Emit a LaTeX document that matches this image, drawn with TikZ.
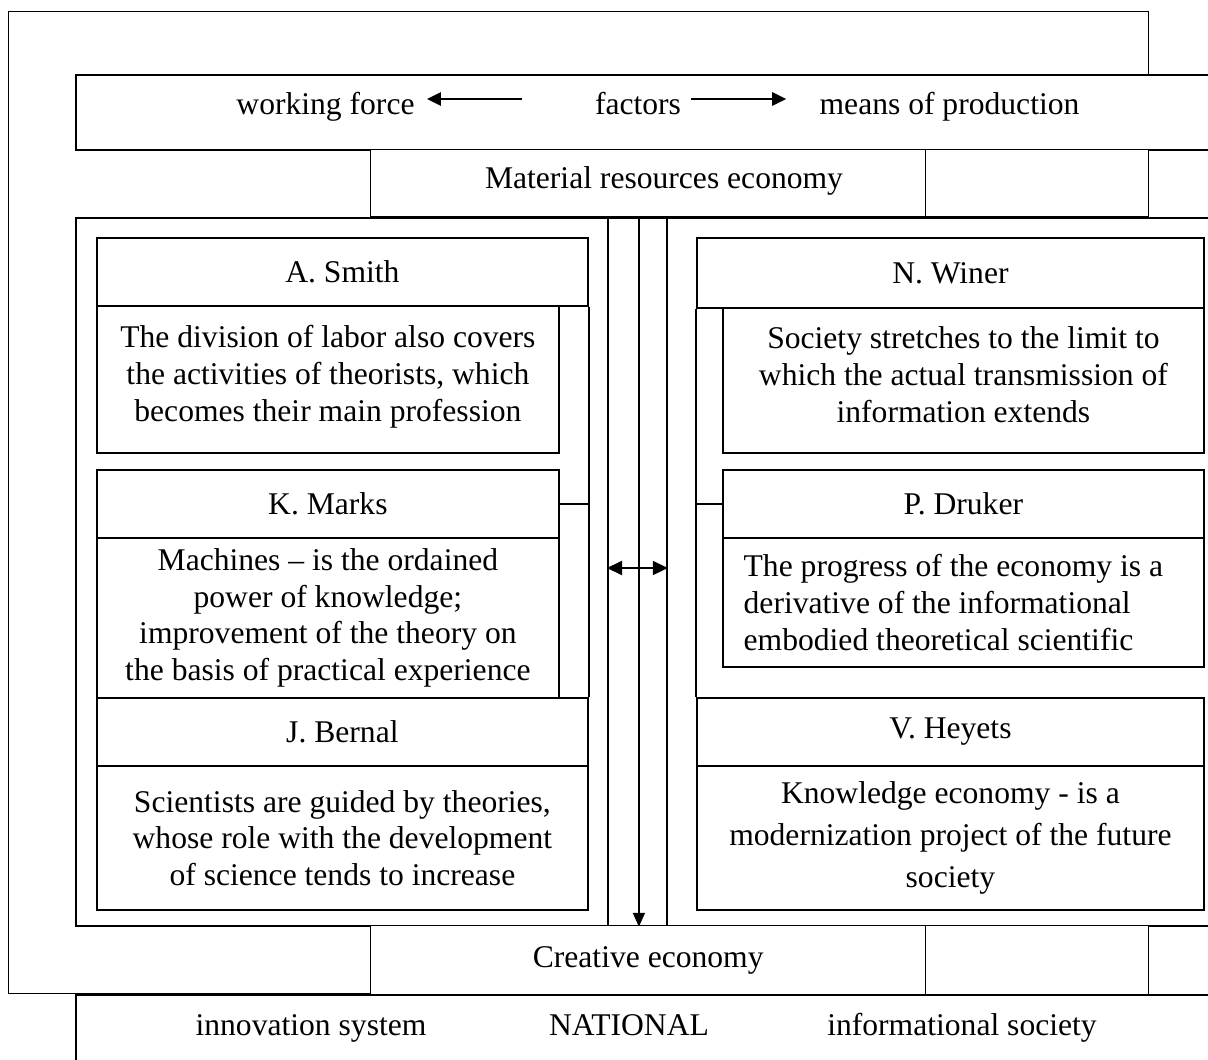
\documentclass[tikz,border=0pt]{standalone}
\usepackage{fontspec}
\setmainfont{Liberation Serif}
\usetikzlibrary{arrows.meta}
\newcommand{\cellat}[6][]{\node[cell,anchor=north west,minimum width={((#4)-(#2))*0.5pt},minimum height={((#5)-(#3))*0.5pt},#1] (#6) at (#2,#3)}
\begin{document}
\begin{tikzpicture}[x=0.5pt,y=-0.5pt,
  txt/.style={font=\fontsize{15.8pt}{18.35pt}\selectfont, inner sep=0pt},
  cell/.style={draw, line width=0.9pt, fill=white, inner sep=0pt, align=center, txt},
  thinline/.style={line width=0.7pt},
  boxline/.style={line width=0.9pt},
  tipline/.style={-{Triangle[length=7pt,width=6.5pt]}, line width=1.3pt},
]
\useasboundingbox (0,0) rectangle (1208,1059);
\clip (0,0) rectangle (1208,1059);

% outer frame
\cellat[thinline,fill=none]{8}{11}{1148}{993}{outer}{};

% factors row
\cellat[line width=1.1pt]{75}{74}{1240}{149}{facbox}{};
\coordinate (ay) at (0,99);
\node[txt,anchor=base] (wf) at (325.5,115) {working force};
\node[txt,anchor=base] (fac) at (638,115) {factors};
\node[txt,anchor=base] (mop) at (949.5,115) {means of production};
\draw[tipline, shorten <=36.5pt, shorten >=6pt] (fac.west |- ay) -- (wf.east |- ay);
\draw[tipline, shorten <=5pt, shorten >=16.5pt] (fac.east |- ay) -- (mop.west |- ay);

% material row
\cellat[thinline]{370}{149}{925}{216}{mat}{};
\node[txt,anchor=base] (matT) at (664,189) {Material resources economy};
\cellat[thinline]{925}{149}{1148}{216}{matR}{};

% inner frame
\cellat{75}{217}{1240}{925}{frame}{};
\cellat{607}{217}{666}{925}{midcol}{};
\draw[-{Triangle[length=7pt,width=6pt]}, boxline] ([xshift=0.75pt]midcol.north) -- ([xshift=0.75pt]midcol.south);
\coordinate (da) at (638,568);
\draw[{Triangle[length=7.5pt,width=7pt]}-{Triangle[length=7.5pt,width=7pt]}, line width=1pt] (da -| midcol.west) -- (da -| midcol.east);

% left column
\cellat{96}{237}{587}{305}{smithH}{A. Smith};
\cellat[text depth=6pt]{96}{305}{558}{452}{smithB}{The division of labor also covers\\the activities of theorists, which\\becomes their main profession};
\cellat{96}{469}{558}{537}{marksH}{K. Marks};
\cellat{96}{537}{558}{697}{marksB}{Machines – is the ordained\\power of knowledge;\\improvement of the theory on\\the basis of practical experience};
\cellat{96}{697}{587}{765}{bernalH}{J. Bernal};
\cellat{96}{765}{587}{909}{bernalB}{Scientists are guided by theories,\\whose role with the development\\of science tends to increase};
\draw[boxline] (smithH.south east) -- (bernalH.north east);
\draw[boxline] (marksH.east) -- (marksH.east -| smithH.east);

% right column
\cellat{696}{237}{1203}{307}{winerH}{N. Winer};
\cellat[text depth=6pt]{722}{307}{1203}{452}{winerB}{Society stretches to the limit to\\which the actual transmission of\\information extends};
\cellat{722}{469}{1203}{537}{drukerH}{P. Druker};
\cellat[align=left]{722}{537}{1203}{666}{drukerB}{The progress of the economy is a\hspace*{10pt}\\derivative of the informational\\embodied theoretical scientific};
\cellat{696}{697}{1203}{765}{heyetsH}{V. Heyets};
\cellat[font=\fontsize{15.8pt}{21pt}\selectfont]{696}{765}{1203}{909}{heyetsB}{Knowledge economy - is a\\modernization project of the future\\society};
\draw[boxline] (winerH.south west) -- (heyetsH.north west);
\draw[boxline] (drukerH.west) -- (drukerH.west -| winerH.west);

% creative row
\cellat[thinline]{370}{925}{925}{994}{cre}{Creative economy};
\cellat[thinline]{925}{925}{1148}{994}{creR}{};

% national row
\cellat{75}{994}{1240}{1100}{nat}{};
\node[txt,anchor=base] (inn) at (311,1035) {innovation system};
\node[txt,anchor=base] (natl) at (629,1035) {NATIONAL};
\node[txt,anchor=base] (inf) at (962,1035) {informational society};
\end{tikzpicture}
\end{document}
